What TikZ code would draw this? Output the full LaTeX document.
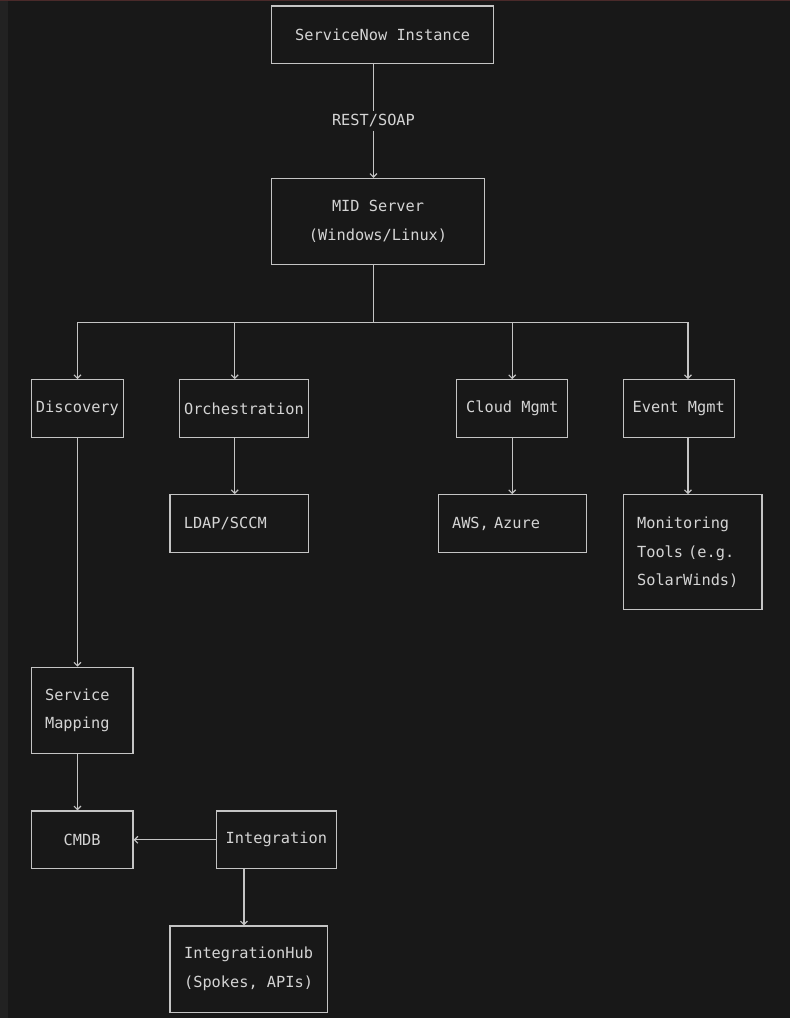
\documentclass[tikz,border=0pt]{standalone}
\usepackage{fontspec}
\setmonofont{DejaVu Sans Mono}
\usepackage{tikz}
\usetikzlibrary{arrows.meta, positioning}

\definecolor{editorbg}{HTML}{181818}
\definecolor{gutterbg}{HTML}{222222}
\definecolor{tabred}{HTML}{4A2A2A}
\definecolor{asciigray}{HTML}{D4D4D4}
\definecolor{linegray}{HTML}{C4C4C4}

\begin{document}
\begin{tikzpicture}[
      x=9.25pt, y=-28.75pt,
      every node/.style={text=asciigray, font=\ttfamily\fontsize{15.3}{28.75}\selectfont},
      box/.style={draw=linegray, line width=1.2pt, inner sep=0pt, align=center},
      cell/.style 2 args={minimum width=#1*9.25pt, minimum height=#2*28.75pt},
      lbox/.style 2 args={draw=linegray, line width=1.2pt, align=left, inner xsep=13.875pt,
        inner ysep=0pt, text width=#1, minimum height=#2*28.75pt},
      line/.style={draw=linegray, line width=1.2pt},
      arr/.style={line, -{Straight Barb[length=3.5pt, width=7pt]}},
      lab/.style={inner sep=3pt}
    ]

% Editor background
      \useasboundingbox (-31.2pt,6pt) rectangle (758.8pt,-1012pt);
      \fill[editorbg] (-31.2pt,6pt) rectangle (758.8pt,-1012pt);
      \fill[gutterbg] (-31.2pt,6pt) rectangle (-23.2pt,-1012pt);
      \fill[tabred] (-31.2pt,6pt) rectangle (758.8pt,4.6pt);

% Top chain
      \node[box, cell={24}{2}] (snow) at (38,1) {ServiceNow Instance};
      \node[lab] (rest) at (37,4) {REST/SOAP};
      \node[box, cell={23}{3}] (mid) at (37.5,7.5) {MID Server\\(Windows/Linux)};

% Bus
      \coordinate (busL) at (5,11);
      \coordinate (busO) at (22,11);
      \coordinate (busR) at (71,11);

% Modules
      \node[box, cell={10}{2}] (disc) at (5,14) {Discovery};
      \node[box, cell={14}{2}] (orch) at (23,14) {Orchestration};
      \node[box, cell={12}{2}] (cloud) at (52,14) {Cloud Mgmt};
      \node[box, cell={12}{2}] (event) at (70,14) {Event Mgmt};

% Targets
      \node[lbox={111pt}{2}] (ldap) at (22.5,18) {LDAP/SCCM};
      \node[lbox={120.25pt}{2}] (aws) at (52,18) {AWS, Azure};
      \node[lbox={111pt}{4}] (mon) at (71.5,19) {Monitoring\\Tools (e.g.\\SolarWinds)};

% Lower chain
      \node[lbox={74pt}{3}] (smap) at (5.5,24.5) {Service\\Mapping};
      \node[box, cell={11}{2}] (cmdb) at (5.5,29) {CMDB};
      \node[box, cell={13}{2}] (integ) at (26.5,29) {Integration};
      \node[box, cell={17}{3}] (hub) at (23.5,33.5) {IntegrationHub\\(Spokes, APIs)};

% Arrows
      \draw[line] (rest |- snow.south) -- (rest);
      \draw[arr] (rest) -- (rest |- mid.north);
      \draw[line] (rest |- mid.south) -- (rest |- busL);
      \draw[line] (busL) -- (busR);

      \draw[arr] (busL) -- (disc);
      \draw[arr] (busO) -- (busO |- orch.north);
      \draw[arr] (cloud |- busL) -- (cloud);
      \draw[arr] (busR) -- (busR |- event.north);

      \draw[arr] (disc.south) -- (disc.south |- smap.north);
      \draw[arr] (busO |- orch.south) -- (busO |- ldap.north);
      \draw[arr] (cloud) -- (aws);
      \draw[arr] (busR |- event.south) -- (busR |- mon.north);

      \draw[arr] (disc.south |- smap.south) -- (disc.south |- cmdb.north);
      \draw[arr] (integ) -- (cmdb);
      \draw[arr] ([xshift=-4.625pt]hub.north |- integ.south) -- ([xshift=-4.625pt]hub.north);
    \end{tikzpicture}
\end{document}
